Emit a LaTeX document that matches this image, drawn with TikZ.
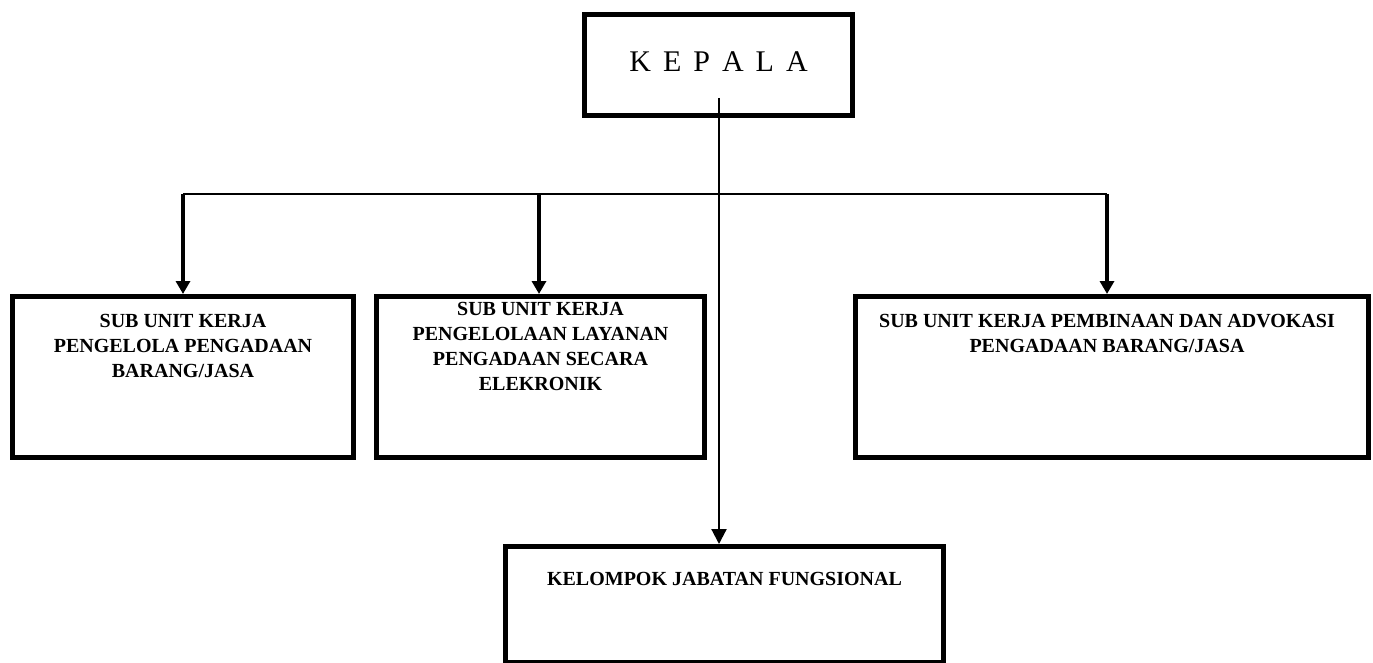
\documentclass[tikz,border=0pt]{standalone}
\usepackage{fontspec}
\setmainfont{Liberation Serif}
\usetikzlibrary{arrows.meta}
\begin{document}
\begin{tikzpicture}[x=1pt,y=-1pt,
  box/.style={draw, line width=5pt, inner sep=0pt, anchor=north west},
  lbl/.style={inner sep=0pt, anchor=north, align=center, font=\fontsize{20}{25}\selectfont\bfseries},
  conn/.style={line width=2.2pt},
  arr/.style={line width=3.5pt, -{Triangle[width=14pt,length=13pt]}},
  arrthin/.style={line width=2.2pt, -{Triangle[width=15pt,length=15pt]}}]
\useasboundingbox (0,0) rectangle (1373,663);
% boxes
\node[box, minimum width=268pt, minimum height=101pt] (kepala) at (582,12) {};
\node[box, minimum width=341pt, minimum height=161pt] (b1) at (10,294) {};
\node[box, minimum width=328pt, minimum height=161pt] (b2) at (374,294) {};
\node[box, minimum width=513pt, minimum height=161pt] (b3) at (853,294) {};
\node[box, minimum width=438pt, minimum height=116pt] (bot) at (503,544) {};
% texts
\node[inner sep=0pt, font=\fontsize{30}{36}\selectfont] (tk) at ([yshift=3pt]kepala.center) {{\spaceskip=12pt K E P A L A}};
\node[lbl] (t1) at ([yshift=-20pt]b1.north) {SUB UNIT KERJA\\PENGELOLA PENGADAAN\\BARANG/JASA};
\node[lbl] (t2) at ([yshift=-8pt]b2.north) {SUB UNIT KERJA\\PENGELOLAAN LAYANAN\\PENGADAAN SECARA\\ELEKRONIK};
\node[lbl] (t3) at ([xshift=-5pt,yshift=-20pt]b3.north) {SUB UNIT KERJA PEMBINAAN DAN ADVOKASI\\PENGADAAN BARANG/JASA};
\node[lbl] (t4) at ([yshift=-28pt]bot.north) {KELOMPOK JABATAN FUNGSIONAL};
% connectors
\coordinate (ks) at (719,98);
\coordinate (h1) at (183,194);
\coordinate (h2) at (539,194);
\coordinate (h3) at (1107,194);
\draw[conn] (h1) -- (h3);
\draw[arrthin] (ks) -- (ks |- bot.north);
\draw[arr] (h1) -- (h1 |- b1.north);
\draw[arr] (h2) -- (h2 |- b2.north);
\draw[arr] (h3) -- (h3 |- b3.north);
\end{tikzpicture}
\end{document}
